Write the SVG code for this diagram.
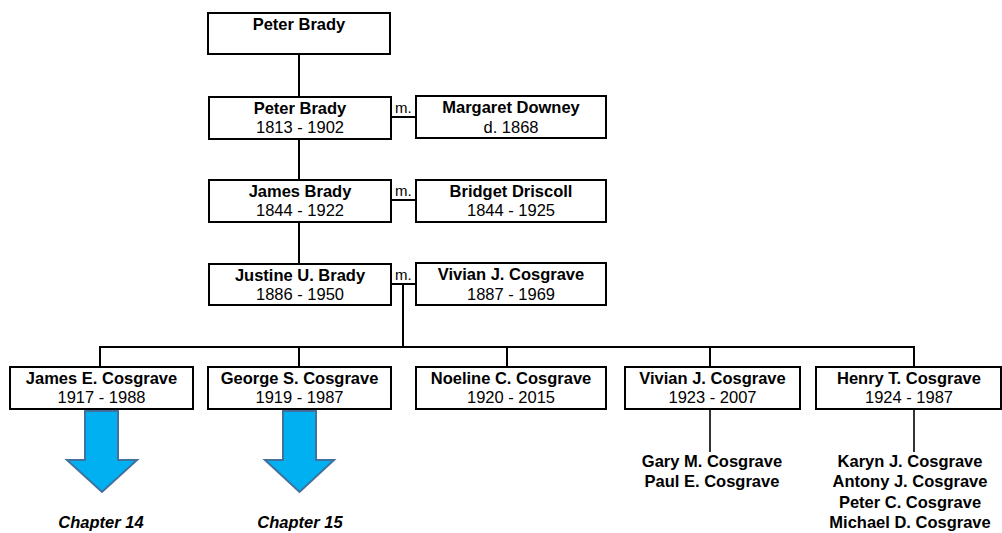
<svg xmlns="http://www.w3.org/2000/svg" width="1002" height="533" viewBox="0 0 1002 533">
<style>
.box{fill:#fff;stroke:#000;stroke-width:2}
.ln{fill:none;stroke:#000;stroke-width:2}
.ln2{fill:none;stroke:#000;stroke-width:1.6}
text{font-family:"Liberation Sans",Arial,sans-serif;font-size:16.5px;text-anchor:middle;fill:#000}
.b{font-weight:bold}
.m{font-size:15px;text-anchor:start}
.ch{font-weight:bold;font-style:italic}
.arr{fill:#00B0F0;stroke:#41719C;stroke-width:2;stroke-linejoin:miter}
</style>
<g id="connectors">
<line class="ln" x1="299" y1="54" x2="299" y2="97"/>
<line class="ln" x1="299" y1="139" x2="299" y2="180"/>
<line class="ln" x1="299" y1="222" x2="299" y2="264"/>
<line class="ln" x1="391" y1="117" x2="416" y2="117"/>
<line class="ln" x1="391" y1="200" x2="416" y2="200"/>
<line class="ln" x1="391" y1="284" x2="416" y2="284"/>
<line class="ln" x1="403" y1="284" x2="403" y2="347"/>
<polyline class="ln" points="100,367 100,347 914,347 914,367"/>
<line class="ln" x1="299" y1="347" x2="299" y2="367"/>
<line class="ln" x1="507" y1="347" x2="507" y2="367"/>
<line class="ln" x1="710" y1="347" x2="710" y2="367"/>
<line class="ln2" x1="710" y1="409" x2="710" y2="452"/>
<line class="ln2" x1="914" y1="409" x2="914" y2="452"/>
<text class="m" x="395" y="113">m.</text>
<text class="m" x="395" y="196">m.</text>
<text class="m" x="395" y="280">m.</text>
</g>
<g id="n-peter-sr"><rect class="box" x="208" y="13" width="182" height="41"/><text class="b" x="299" y="30">Peter Brady</text></g>
<g id="n-peter"><rect class="box" x="209" y="97" width="182" height="42"/><text class="b" x="300" y="113.5">Peter Brady</text><text x="300" y="133">1813 - 1902</text></g>
<g id="n-margaret"><rect class="box" x="416" y="96" width="190" height="42"/><text class="b" x="511" y="113">Margaret Downey</text><text x="511" y="133">d. 1868</text></g>
<g id="n-james"><rect class="box" x="209" y="180" width="182" height="42"/><text class="b" x="300" y="196.5">James Brady</text><text x="300" y="216">1844 - 1922</text></g>
<g id="n-bridget"><rect class="box" x="416" y="180" width="190" height="42"/><text class="b" x="511" y="196.5">Bridget Driscoll</text><text x="511" y="216">1844 - 1925</text></g>
<g id="n-justine"><rect class="box" x="209" y="264" width="182" height="41"/><text class="b" x="300" y="280.5">Justine U. Brady</text><text x="300" y="300">1886 - 1950</text></g>
<g id="n-vivian-sr"><rect class="box" x="416" y="263" width="190" height="42"/><text class="b" x="511" y="280">Vivian J. Cosgrave</text><text x="511" y="299.5">1887 - 1969</text></g>
<g id="n-james-e"><rect class="box" x="10" y="367" width="183" height="42"/><text class="b" x="101.5" y="383.5">James E. Cosgrave</text><text x="101.5" y="403">1917 - 1988</text></g>
<g id="n-george"><rect class="box" x="208" y="367" width="183" height="42"/><text class="b" x="299.5" y="383.5">George S. Cosgrave</text><text x="299.5" y="403">1919 - 1987</text></g>
<g id="n-noeline"><rect class="box" x="416" y="367" width="190" height="42"/><text class="b" x="511" y="383.5">Noeline C. Cosgrave</text><text x="511" y="403">1920 - 2015</text></g>
<g id="n-vivian"><rect class="box" x="625" y="367" width="175" height="42"/><text class="b" x="712.5" y="383.5">Vivian J. Cosgrave</text><text x="712.5" y="403">1923 - 2007</text></g>
<g id="n-henry"><rect class="box" x="816" y="367" width="185" height="42"/><text class="b" x="909" y="383.5">Henry T. Cosgrave</text><text x="909" y="403">1924 - 1987</text></g>
<g id="n-vivian-kids"><text class="b" x="712" y="467">Gary M. Cosgrave</text><text class="b" x="712" y="487">Paul E. Cosgrave</text></g>
<g id="n-henry-kids"><text class="b" x="910" y="467">Karyn J. Cosgrave</text><text class="b" x="910" y="487">Antony J. Cosgrave</text><text class="b" x="910" y="508">Peter C. Cosgrave</text><text class="b" x="910" y="528">Michael D. Cosgrave</text></g>
<g id="arrow-14"><polygon class="arr" points="85,411 118,411 118,460 137,460 102,492 67,460 85,460"/><text class="ch" x="101" y="528">Chapter 14</text></g>
<g id="arrow-15"><polygon class="arr" points="283,411 316,411 316,460 334,460 299.5,492 265,460 283,460"/><text class="ch" x="300" y="528">Chapter 15</text></g>
</svg>
